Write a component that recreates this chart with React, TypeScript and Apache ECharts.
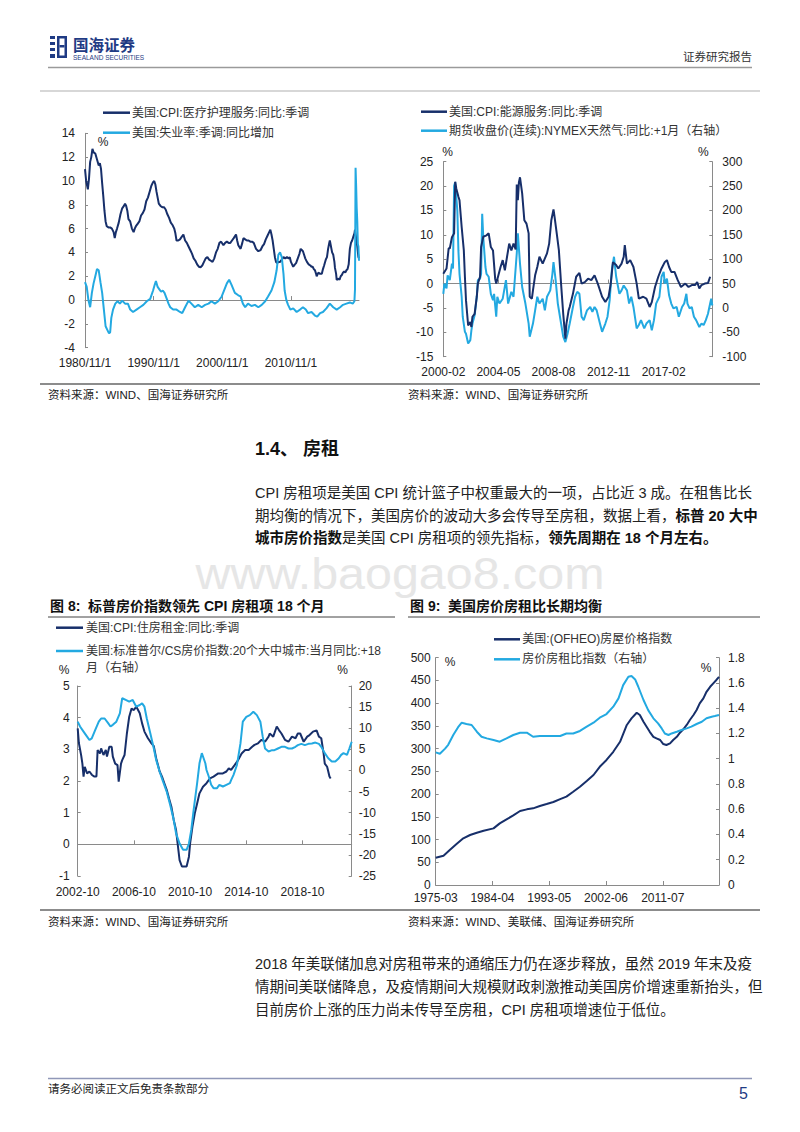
import React, { useEffect, useRef } from "react";
import * as echarts from "echarts";

const FONT = "'Liberation Sans', Arial, 'Noto Sans CJK SC', sans-serif";
const DARK = "#172f6a";
const LIGHT = "#23a9e1";
const AXIS = "#8a8a8a";

// ---------- categories (monthly) ----------
function monthLabels(y0: number, m0: number, n: number, fmt: (y: number, m: number) => string) {
  const out: string[] = [];
  for (let i = 0; i < n; i++) {
    const t = m0 - 1 + i;
    out.push(fmt(y0 + Math.floor(t / 12), (t % 12) + 1));
  }
  return out;
}
const dash = (y: number, m: number) => `${y}-${m < 10 ? "0" + m : m}`;
const cat1 = monthLabels(1980, 11, 480, (y, m) => `${y}/${m}/1`);
const cat2 = monthLabels(2000, 2, 250, dash);
const cat3 = monthLabels(2002, 10, 235, dash);
const cat4 = monthLabels(1975, 3, 545, dash);

// ---------- data: [month index from first category, value] ----------
const medCpi: [number, number][] = [[0,11.0],[2,10.0],[5,9.3],[7,10.2],[9,11.6],[11,12.0],[13,12.7],[15,12.4],[18,12.3],[21,11.8],[24,11.3],[26,11.5],[28,11.0],[30,9.8],[32,8.7],[34,7.5],[36,6.6],[38,6.2],[41,6.1],[44,6.1],[47,6.0],[50,5.7],[52,5.2],[54,5.7],[56,6.0],[59,6.5],[62,7.2],[65,7.7],[68,7.9],[70,8.1],[72,7.9],[74,7.5],[76,6.8],[79,6.6],[82,6.0],[85,5.7],[87,6.0],[89,6.2],[92,6.4],[95,6.6],[98,7.1],[101,7.3],[104,7.6],[107,8.3],[110,8.6],[113,9.1],[116,9.6],[119,9.9],[121,10.0],[123,9.7],[125,9.1],[127,8.6],[129,8.1],[132,7.9],[135,7.8],[138,7.8],[141,7.6],[144,7.2],[147,6.9],[150,6.5],[153,6.3],[156,6.0],[158,5.6],[160,5.0],[163,5.0],[166,5.1],[169,5.3],[172,5.5],[175,5.0],[178,4.8],[181,4.5],[184,4.2],[187,3.9],[190,3.5],[193,3.3],[196,3.0],[199,2.8],[202,2.75],[205,2.9],[208,3.2],[211,3.5],[214,3.6],[217,3.4],[220,3.3],[223,3.2],[226,3.5],[229,4.0],[232,4.3],[235,4.8],[238,4.9],[242,4.6],[245,4.8],[248,4.9],[251,4.8],[254,4.8],[257,5.0],[260,5.2],[264,5.5],[266,5.0],[268,4.6],[272,4.3],[275,4.8],[277,5.2],[280,5.1],[283,5.0],[286,5.0],[289,4.9],[292,4.9],[295,4.8],[299,4.3],[303,4.1],[307,4.2],[310,4.5],[313,4.7],[316,5.1],[319,5.4],[322,5.7],[324,5.9],[326,5.5],[328,5.0],[330,4.3],[332,3.6],[334,3.2],[336,3.1],[338,3.2],[341,3.2],[344,3.4],[347,3.6],[350,3.5],[353,3.6],[356,3.5],[358,3.6],[360,3.2],[362,3.0],[364,2.8],[367,3.0],[369,3.1],[372,3.5],[375,3.9],[377,4.3],[379,4.2],[381,4.1],[383,3.8],[385,3.5],[388,3.2],[391,3.0],[394,2.9],[396,2.8],[398,2.8],[400,2.6],[402,2.5],[404,2.2],[405,2.0],[408,2.3],[411,2.2],[414,2.2],[416,2.6],[418,2.9],[421,3.4],[423,3.6],[425,4.3],[427,4.8],[428,5.0],[430,4.5],[432,4.0],[434,3.8],[436,3.2],[437,2.7],[439,2.2],[440,1.7],[443,1.8],[445,1.7],[447,2.0],[449,2.1],[451,2.3],[453,2.4],[455,2.3],[457,2.5],[459,2.6],[461,3.0],[463,4.3],[465,4.8],[467,5.0],[469,5.3],[471,5.6],[472,5.9],[474,5.2],[476,4.5],[478,3.6],[479,3.5]];
const unempChg: [number, number][] = [[0,1.5],[3,1.1],[6,0.0],[9,-0.6],[12,0.6],[15,1.4],[18,2.0],[21,2.6],[24,2.5],[27,1.5],[30,0.6],[33,-0.8],[36,-2.2],[39,-2.5],[42,-2.8],[44,-2.7],[46,-1.5],[49,-0.8],[53,-0.3],[57,-0.1],[61,-0.3],[65,-0.05],[70,-0.3],[75,-0.3],[79,-0.8],[84,-1.0],[90,-0.8],[96,-0.6],[102,-0.4],[108,-0.1],[114,0.1],[119,0.8],[122,1.3],[124,1.6],[127,1.1],[130,0.9],[133,0.7],[136,0.8],[139,0.6],[143,0.1],[146,-0.3],[149,-0.6],[154,-0.8],[160,-0.8],[166,-1.0],[170,-1.1],[175,-0.6],[181,-0.05],[186,-0.3],[192,-0.6],[198,-0.4],[204,-0.6],[210,-0.4],[216,-0.3],[221,-0.1],[227,-0.3],[233,-0.1],[239,0.3],[243,0.8],[248,1.4],[252,1.7],[256,1.3],[262,0.6],[268,0.4],[272,0.3],[276,-0.3],[280,-0.6],[285,-0.3],[291,-0.5],[297,-0.4],[303,-0.6],[309,-0.4],[315,-0.1],[320,0.3],[326,0.8],[331,1.5],[335,2.5],[338,3.8],[341,4.0],[344,3.6],[347,2.2],[349,0.8],[352,0.0],[355,-0.4],[359,-0.8],[364,-0.7],[370,-1.0],[376,-0.8],[381,-0.6],[386,-0.8],[390,-1.1],[396,-1.0],[402,-1.3],[406,-1.4],[411,-1.1],[416,-1.0],[422,-0.7],[428,-0.3],[434,-0.6],[440,-0.8],[446,-0.6],[451,-0.4],[457,-0.3],[463,-0.2],[468,-0.3],[471,-0.1],[472,0.9],[473,11.1],[474,9.6],[475,7.7],[476,6.6],[477,4.7],[478,4.5],[479,3.3]];

const energySvc: [number, number][] = [[0,2.0],[3,3.1],[5,7.3],[6,7.2],[8,9.5],[10,10.3],[11,20.9],[12,19.5],[14,17.8],[15,17.1],[17,11.6],[19,6.8],[20,1.4],[21,-3.4],[23,-8.6],[25,-7.9],[26,-8.9],[27,-6.8],[29,-6.2],[31,-2.7],[32,0],[34,1.4],[35,7.5],[37,9.6],[40,9.9],[42,10.3],[44,7.5],[46,6.8],[48,1.0],[49,0],[51,1.7],[53,3.4],[55,4.8],[57,2.7],[59,5.5],[61,8.2],[63,6.8],[65,8.2],[67,7.0],[68,20.3],[69,17.1],[70,20.8],[71,21.8],[73,18.5],[75,13.0],[77,12.3],[79,10.3],[80,-2.7],[82,-3.1],[83,-1.4],[85,1.7],[87,3.4],[89,5.5],[92,4.1],[96,6.2],[98,8.2],[100,13.0],[102,15.2],[103,13.7],[105,10.3],[107,6.8],[109,0],[111,-6.2],[113,-11.3],[114,-8.2],[116,-5.5],[117,-4.8],[120,-2.1],[123,1.4],[126,2.2],[128,0],[131,0.3],[134,1.0],[137,0.7],[140,1.7],[143,0],[147,-2.7],[150,-3.8],[153,-2.7],[155,0],[157,4.4],[160,3.8],[162,3.1],[165,4.1],[167,5.5],[168,7.9],[170,4.1],[173,4.8],[176,3.4],[179,0],[181,-3.1],[185,-2.7],[188,-3.1],[191,-4.8],[193,-3.8],[196,-0.7],[199,1.4],[202,3.1],[205,4.4],[207,4.8],[209,3.4],[211,2.4],[214,2.4],[217,0.7],[220,-0.7],[224,0],[227,-0.7],[230,-0.3],[233,-0.3],[235,0.3],[237,-1.0],[239,-0.3],[242,0],[245,0.1],[247,1.4]];
const natGas: [number, number][] = [[0,29],[1,50],[3,40],[4,67],[6,57],[8,91],[9,81],[10,250],[11,258],[13,199],[14,117],[15,70],[17,23],[18,-18],[20,-49],[21,-53],[23,-73],[25,-66],[26,-46],[27,-32],[29,-15],[31,23],[32,57],[34,60],[35,70],[36,193],[37,145],[39,84],[40,70],[42,64],[44,29],[46,16],[47,29],[49,-18],[50,23],[52,9],[55,19],[58,57],[60,9],[63,33],[65,23],[68,112],[69,153],[71,91],[73,43],[76,9],[79,-32],[80,-59],[83,-32],[85,-5],[87,23],[89,9],[92,19],[94,-5],[96,23],[99,36],[101,70],[102,94],[104,57],[106,9],[108,-18],[111,-59],[113,-70],[115,-53],[117,-32],[120,2],[122,23],[124,33],[126,29],[128,-18],[130,-25],[133,-5],[136,2],[138,-8],[140,2],[142,-5],[145,-32],[147,-49],[150,-32],[152,-18],[154,16],[156,77],[158,105],[160,64],[163,29],[165,36],[167,46],[170,36],[172,9],[174,23],[176,2],[179,-42],[181,-35],[183,-25],[186,-42],[188,-32],[191,-25],[193,-46],[195,-25],[197,9],[200,23],[202,64],[204,74],[205,50],[207,60],[209,26],[211,9],[213,-1],[216,2],[218,-18],[221,2],[223,9],[225,29],[226,9],[228,-1],[230,2],[232,-18],[234,-25],[237,-39],[239,-32],[241,-35],[243,-25],[245,-12],[247,9],[248,19],[249,5]];

const rentCpi: [number, number][] = [[0,3.66],[1,3.2],[3,2.8],[4,2.55],[5,2.14],[6,2.45],[8,2.24],[10,2.3],[12,2.2],[14,2.14],[16,2.14],[17,2.98],[19,2.87],[20,3.03],[22,2.82],[24,2.98],[25,2.77],[27,3.08],[29,3.08],[30,2.77],[32,2.55],[34,2.5],[35,1.98],[37,2.55],[38,2.66],[40,2.82],[42,3.5],[44,4.03],[46,4.29],[48,4.24],[50,4.35],[53,4.14],[55,3.82],[57,3.56],[60,3.35],[63,3.19],[65,3.1],[67,2.72],[70,2.3],[72,2.14],[74,1.93],[76,1.72],[78,1.45],[80,1.19],[82,0.77],[84,0.45],[86,-0.18],[87,-0.5],[89,-0.7],[93,-0.7],[95,-0.39],[96,0.03],[98,0.56],[100,0.98],[102,1.29],[104,1.61],[107,1.82],[110,1.93],[113,2.08],[116,2.14],[120,2.24],[124,2.24],[127,2.3],[129,2.4],[131,2.35],[134,2.5],[137,2.66],[140,2.87],[143,2.98],[146,2.98],[149,3.08],[151,3.14],[154,3.19],[157,3.3],[160,3.24],[163,3.4],[164,3.5],[167,3.4],[170,3.72],[172,3.6],[174,3.5],[177,3.3],[180,3.24],[183,3.4],[186,3.35],[188,3.5],[190,3.5],[193,3.24],[196,3.4],[198,3.45],[201,3.56],[204,3.6],[206,3.4],[208,3.35],[210,2.87],[211,2.55],[213,2.45],[214,2.3],[215,2.14],[216,2.08]];
const csHpi: [number, number][] = [[0,11.55],[2,10.4],[5,9.2],[8,8.0],[10,7.2],[12,7.6],[15,9.6],[18,11.55],[20,12.3],[23,12.3],[26,11.2],[28,10.4],[30,10.8],[33,11.55],[36,13.5],[38,17.1],[41,16.7],[44,16.3],[47,16.7],[50,15.1],[53,15.5],[55,15.9],[57,15.1],[59,12.3],[62,8.8],[65,5.2],[67,2.5],[70,-0.3],[73,-2.7],[76,-5],[79,-8.2],[82,-11.7],[84,-14.9],[87,-17.3],[90,-18.8],[93,-18.8],[95,-17.3],[97,-14.1],[99,-9.4],[102,-3],[104,1.7],[106,4.1],[107,3.3],[109,1.7],[110,0.1],[112,-1.5],[114,-3.4],[116,-4.2],[119,-4.2],[121,-3.4],[124,-3.8],[127,-3.4],[130,-3],[131,-2.3],[133,-1.1],[136,1.3],[139,6.4],[141,11.55],[144,12.7],[147,13.1],[150,13.9],[153,13.1],[156,11.55],[158,8.0],[160,5.2],[163,4.5],[166,4.8],[168,4.8],[171,5.2],[174,5.6],[177,5.6],[180,5.2],[183,5.2],[186,5.6],[188,6.0],[191,6.3],[194,6.0],[197,6.3],[200,6.4],[203,6.6],[206,6.3],[208,5.6],[211,4.1],[214,2.9],[217,2.1],[220,2.1],[223,2.9],[225,3.7],[227,4.1],[230,3.7],[232,5.2],[234,6.8]];

const hpi: [number, number][] = [[0,60],[15,64.5],[27,77],[40,90],[53,102.6],[66,110],[79,115],[92,119.5],[111,124.6],[123,135.6],[136,144.4],[149,153],[162,162.7],[175,166.4],[187,168.6],[200,173.7],[213,178],[226,182.5],[239,189],[251,194.3],[264,205],[277,216],[290,228.7],[303,242],[315,260],[328,275],[341,293],[354,315],[367,352],[376,366.5],[386,379],[392,374],[399,359],[405,348],[411,337],[418,326],[424,322.6],[431,319],[437,310],[443,308],[450,311.6],[456,319],[463,326],[469,335],[475,342],[482,352],[488,363],[495,374],[501,385],[507,399.5],[514,410.5],[520,425],[527,436],[533,443.5],[539,451],[544,458]];
const priceRent: [number, number][] = [[0,1.05],[8,1.04],[18,1.08],[24,1.11],[34,1.19],[43,1.25],[50,1.285],[59,1.275],[69,1.267],[79,1.214],[88,1.174],[98,1.161],[111,1.148],[123,1.135],[136,1.161],[149,1.188],[162,1.206],[175,1.206],[187,1.174],[200,1.18],[213,1.18],[226,1.18],[239,1.18],[251,1.2],[264,1.2],[277,1.22],[290,1.254],[303,1.285],[315,1.325],[328,1.354],[341,1.412],[351,1.478],[360,1.583],[370,1.649],[376,1.655],[383,1.628],[389,1.57],[399,1.465],[408,1.385],[418,1.32],[427,1.28],[434,1.24],[440,1.2],[447,1.188],[453,1.2],[463,1.214],[472,1.227],[482,1.24],[491,1.254],[501,1.275],[511,1.293],[520,1.32],[530,1.333],[536,1.338],[544,1.346]];

// ---------- texts ----------
const names = {
  c1a: "美国:CPI:医疗护理服务:同比:季调",
  c1b: "美国:失业率:季调:同比增加",
  c2a: "美国:CPI:能源服务:同比:季调",
  c2b: "期货收盘价(连续):NYMEX天然气:同比:+1月（右轴）",
  c3a: "美国:CPI:住房租金:同比:季调",
  c3b: "美国:标准普尔/CS房价指数:20个大中城市:当月同比:+18月（右轴）",
  c4a: "美国:(OFHEO)房屋价格指数",
  c4b: "房价房租比指数（右轴）",
};
const para1 = [
  "CPI 房租项是美国 CPI 统计篮子中权重最大的一项，占比近 3 成。在租售比长",
  "期均衡的情况下，美国房价的波动大多会传导至房租，数据上看，{b|标普 20 大中}",
  "{b|城市房价指数}是美国 CPI 房租项的领先指标，{b|领先周期在 18 个月左右。}",
];
const para2 = [
  "2018 年美联储加息对房租带来的通缩压力仍在逐步释放，虽然 2019 年末及疫",
  "情期间美联储降息，及疫情期间大规模财政刺激推动美国房价增速重新抬头，但",
  "目前房价上涨的压力尚未传导至房租，CPI 房租项增速位于低位。",
];

const toPairs = (cats: string[], d: [number, number][]) => d.map(([m, v]) => [cats[m], v]);

function txt(text: string, x: number, y: number, o: any = {}) {
  const align = o.align || "left";
  return {
    type: "text", x, y, silent: true, z: o.z ?? 10, scaleX: o.scaleX ?? 1,
    style: {
      text, fill: o.fill || "#222", fontSize: o.size || 12, fontFamily: FONT,
      fontWeight: o.weight || "normal",
      align, textAlign: align, verticalAlign: "middle", textVerticalAlign: "middle",
      rich: o.rich,
    },
  };
}
function ln(x1: number, y1: number, x2: number, y2: number, stroke: string, w: number) {
  return { type: "line", silent: true, z: 10, shape: { x1, y1, x2, y2 }, style: { stroke, lineWidth: w } };
}

function xAxisCfg(grid: number, data: string[], interval: number, margin: number, onZero: boolean, zeroIdx?: number) {
  return {
    type: "category", gridIndex: grid, data, boundaryGap: false,
    axisLine: { show: true, onZero, onZeroAxisIndex: zeroIdx, lineStyle: { color: AXIS, width: 1 } },
    axisTick: { show: true, inside: true, length: 4, interval, lineStyle: { color: AXIS } },
    axisLabel: { interval, margin, color: "#222", fontSize: 12, fontFamily: FONT, hideOverlap: false },
    splitLine: { show: false },
  };
}
function yAxisCfg(grid: number, min: number, max: number, interval: number, pos: string, margin: number, fmt?: any) {
  return {
    type: "value", gridIndex: grid, min, max, interval, position: pos,
    axisLine: { show: true, onZero: false, lineStyle: { color: AXIS, width: 1 } },
    axisTick: { show: true, inside: true, length: 3, lineStyle: { color: AXIS } },
    axisLabel: { margin, color: "#222", fontSize: 12, fontFamily: FONT, formatter: fmt },
    splitLine: { show: false },
  };
}
function lineSeries(name: string, xi: number, yi: number, data: any[], color: string, z = 3) {
  return {
    name, type: "line", xAxisIndex: xi, yAxisIndex: yi, data, symbol: "none", showSymbol: false,
    silent: true, z, lineStyle: { width: 2, color }, itemStyle: { color },
  };
}

export default function App() {
  const ref = useRef<HTMLDivElement>(null);
  useEffect(() => {
    if (!ref.current) return;
    const chart = echarts.init(ref.current, undefined, { renderer: "svg" });
    const rich = { b: { fontWeight: "bold", fontSize: 14.5, fontFamily: FONT, fill: "#111" } };

    const logo = {
      type: "group", x: 50, y: 36, silent: true,
      children: [
        [0, 0, 5, 3], [0, 6, 5, 3], [0, 12, 5, 3], [0, 18, 5, 4],
        [7, 0, 10, 2.5], [7, 0, 2.5, 22], [14.5, 0, 2.5, 22], [7, 19.5, 10, 2.5], [9.5, 9, 5, 2.5],
      ].map(([x, y, w, h]) => ({ type: "rect", shape: { x, y, width: w, height: h }, style: { fill: "#1f3b84" } })),
    };

    const graphic: any[] = [
      logo,
      txt("国海证券", 73, 45, { size: 15.5, weight: "bold", fill: "#1f3b84" }),
      txt("SEALAND SECURITIES", 73, 57, { size: 6.5, fill: "#1f3b84" }),
      txt("证券研究报告", 752, 57, { size: 11.5, align: "right", fill: "#333" }),
      ln(48, 67.5, 752, 67.5, "#9a9a9a", 1.5),
      ln(40, 91, 760, 91, "#b0b0b0", 1.2),
      // chart 1 legend
      ln(103, 112.7, 130, 112.7, DARK, 2.5), txt(names.c1a, 132, 112.7, { fill: "#333" }),
      ln(103, 132.7, 130, 132.7, LIGHT, 2.5), txt(names.c1b, 132, 132.7, { fill: "#333" }),
      txt("%", 103, 142, { align: "center" }),
      // chart 2 legend
      ln(421, 111.7, 447, 111.7, DARK, 2.5), txt(names.c2a, 449, 111.7, { fill: "#333" }),
      ln(421, 130.7, 447, 130.7, LIGHT, 2.5), txt(names.c2b, 449, 130.7, { fill: "#333" }),
      txt("%", 447.7, 151.7, { align: "center" }),
      txt("%", 703.3, 151.7, { align: "center" }),
      // separators + sources
      ln(40, 384, 760, 384, "#8c8c8c", 2),
      txt("资料来源：WIND、国海证券研究所", 48, 395, { size: 11.5 }),
      txt("资料来源：WIND、国海证券研究所", 408, 395, { size: 11.5 }),
      // section
      txt("1.4、 房租", 255, 449, { size: 18, weight: "bold", fill: "#111" }),
      txt("www.baogao8.com", 400, 573.5, { size: 44, scaleX: 1.1, align: "center", fill: "#e6e6e6", z: 1 }),
      txt(para1[0], 255, 493, { size: 14.5, rich }),
      txt(para1[1], 255, 515.5, { size: 14.5, rich }),
      txt(para1[2], 255, 538, { size: 14.5, rich }),
      // chart titles
      txt("图 8:  标普房价指数领先 CPI 房租项 18 个月", 50, 606, { size: 14, weight: "bold", fill: "#111" }),
      ln(48, 617, 395, 617, "#444", 1),
      txt("图 9:  美国房价房租比长期均衡", 410, 606, { size: 14, weight: "bold", fill: "#111" }),
      ln(408, 617, 760, 617, "#444", 1),
      // chart 3 legend
      ln(56, 627.7, 83, 627.7, DARK, 2.5), txt(names.c3a, 86, 628, { fill: "#333" }),
      ln(56, 651, 83, 651, LIGHT, 2.5),
      txt("美国:标准普尔/CS房价指数:20个大中城市:当月同比:+18", 86, 651, { fill: "#333" }),
      txt("月（右轴）", 86, 668, { fill: "#333" }),
      txt("%", 64, 670, { align: "center" }),
      txt("%", 342.7, 670, { align: "center" }),
      // chart 4 legend
      ln(494, 639.3, 520, 639.3, DARK, 2.5), txt(names.c4a, 522.3, 639.3, { fill: "#333" }),
      ln(494, 659.3, 520, 659.3, LIGHT, 2.5), txt(names.c4b, 522.3, 659.3, { fill: "#333" }),
      txt("%", 450, 662, { align: "center" }),
      txt("%", 706, 668, { align: "center" }),
      // separators + sources
      ln(40, 910, 760, 910, "#8c8c8c", 2),
      txt("资料来源：WIND、国海证券研究所", 48, 922, { size: 11.5 }),
      txt("资料来源：WIND、美联储、国海证券研究所", 408, 922, { size: 11.5 }),
      // para 2
      txt(para2[0], 255, 964, { size: 14.5 }),
      txt(para2[1], 255, 987, { size: 14.5 }),
      txt(para2[2], 255, 1010, { size: 14.5 }),
      // footer
      ln(48, 1078.5, 752, 1078.5, "#9098b8", 1.5),
      txt("请务必阅读正文后免责条款部分", 48, 1089, { size: 11.5 }),
      txt("5", 748, 1093, { size: 16, align: "right", fill: "#1f3b84" }),
    ];

    const option: any = {
      animation: false,
      backgroundColor: "#fff",
      textStyle: { fontFamily: FONT },
      grid: [
        { left: 85, top: 133.3, width: 274, height: 214.4 },
        { left: 443.3, top: 161.7, width: 269, height: 195 },
        { left: 77.7, top: 686, width: 274, height: 190 },
        { left: 435.7, top: 657.7, width: 283.3, height: 227.3 },
      ],
      xAxis: [
        xAxisCfg(0, cat1, 119, 9, true, 0),
        xAxisCfg(1, cat2, 50, 9, true, 1),
        xAxisCfg(2, cat3, 47, 9.5, true, 3),
        xAxisCfg(3, cat4, 108, 7, false),
      ],
      yAxis: [
        yAxisCfg(0, -4, 14, 2, "left", 10),
        yAxisCfg(1, -15, 25, 5, "left", 10),
        yAxisCfg(1, -100, 300, 50, "right", 10),
        yAxisCfg(2, -1, 5, 1, "left", 8),
        yAxisCfg(2, -25, 20, 5, "right", 7),
        yAxisCfg(3, 0, 500, 50, "left", 5),
        yAxisCfg(3, 0, 1.8, 0.2, "right", 9, (v: number) => String(+v.toFixed(1))),
      ],
      series: [
        lineSeries(names.c1a, 0, 0, toPairs(cat1, medCpi), DARK, 3),
        lineSeries(names.c1b, 0, 0, toPairs(cat1, unempChg), LIGHT, 4),
        lineSeries(names.c2b, 1, 2, toPairs(cat2, natGas), LIGHT, 3),
        lineSeries(names.c2a, 1, 1, toPairs(cat2, energySvc), DARK, 4),
        lineSeries(names.c3a, 2, 3, toPairs(cat3, rentCpi), DARK, 3),
        lineSeries(names.c3b, 2, 4, toPairs(cat3, csHpi), LIGHT, 4),
        lineSeries(names.c4a, 3, 5, toPairs(cat4, hpi), DARK, 3),
        lineSeries(names.c4b, 3, 6, toPairs(cat4, priceRent), LIGHT, 4),
      ],
      graphic,
    };
    chart.setOption(option);
    return () => chart.dispose();
  }, []);
  return (
    <div
      ref={ref}
      style={{ position: "absolute", left: 0, top: 0, width: 800, height: 1132, background: "#fff" }}
    />
  );
}
